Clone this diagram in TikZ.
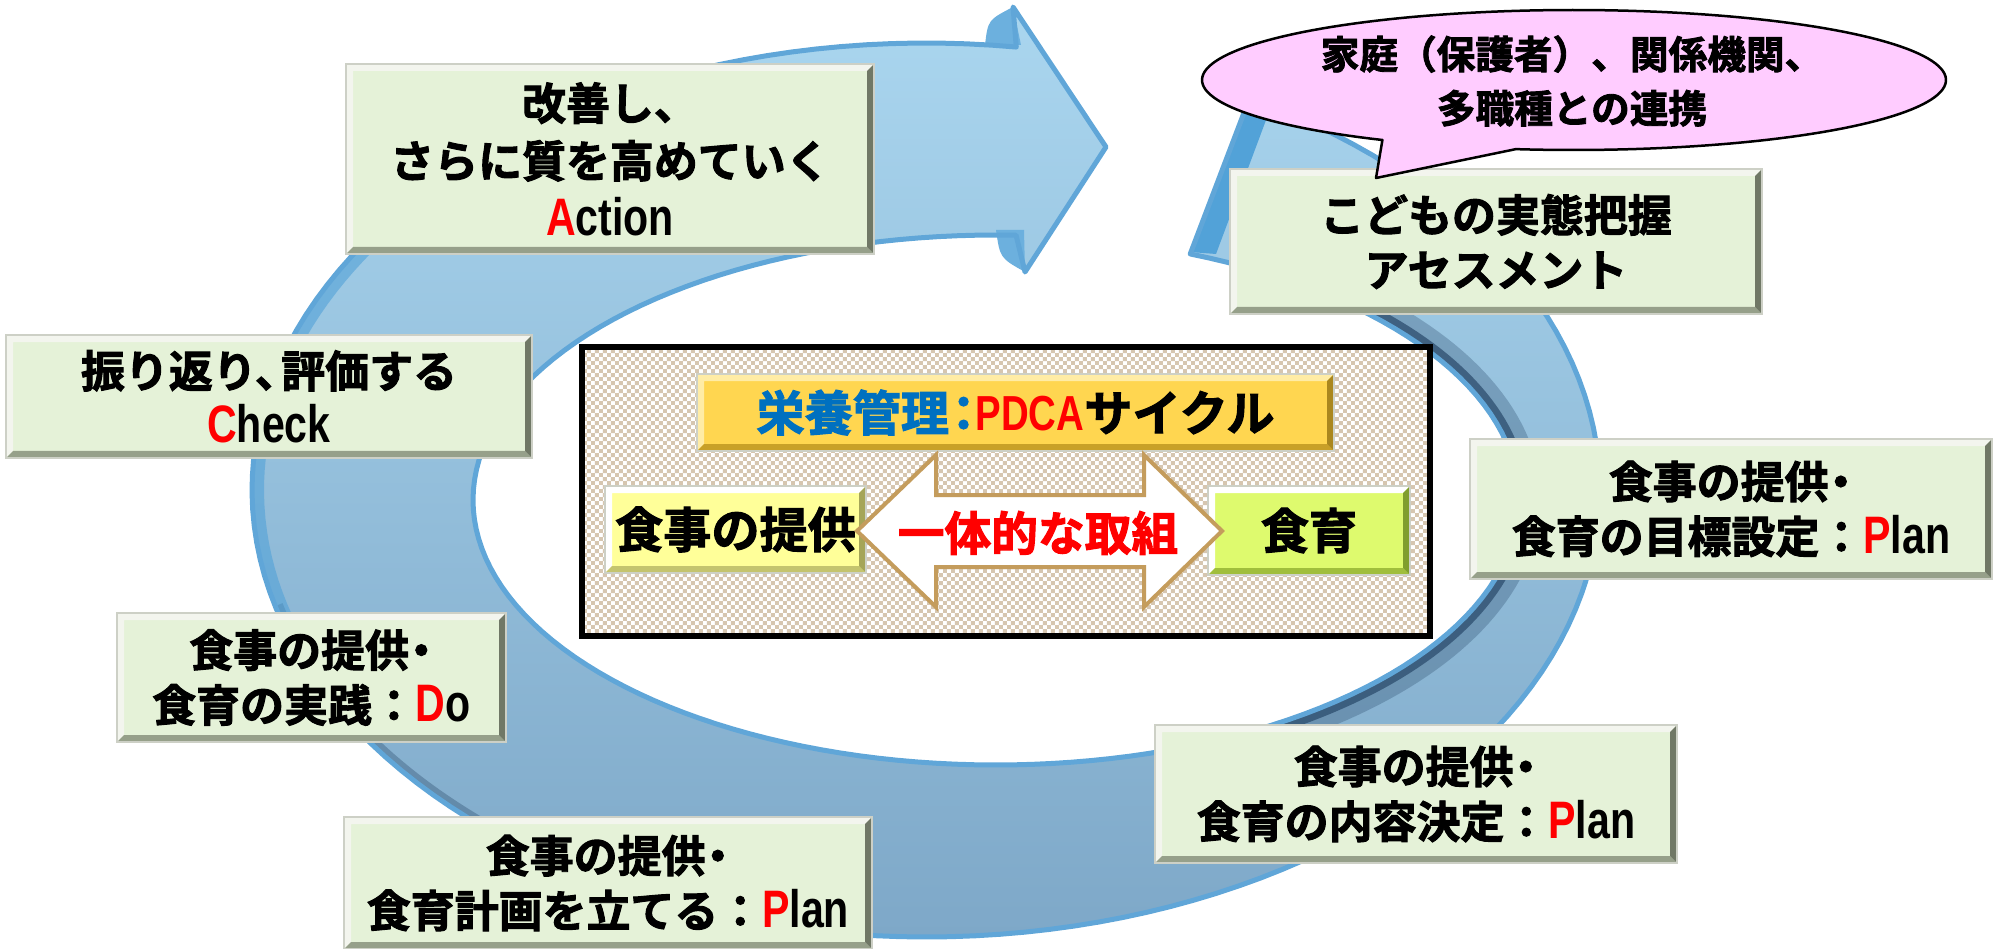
\documentclass[tikz,border=0pt]{standalone}
\usepackage{fontspec}
\usetikzlibrary{patterns}
\newfontfamily\jp{Noto Sans CJK JP}[UprightFont={* Bold},BoldFont={* Bold},UprightFeatures={FakeBold=2.2}]
\newfontfamily\lat{Liberation Sans Bold}[FakeStretch=0.78]

\definecolor{boxg}{RGB}{229,242,216}
\definecolor{bevL}{RGB}{243,245,238}
\definecolor{bevB}{RGB}{150,160,138}
\definecolor{bevR}{RGB}{112,120,102}
\definecolor{boxedge}{RGB}{205,208,198}
\definecolor{ringA}{RGB}{170,214,239}
\definecolor{ringB}{RGB}{126,168,200}
\definecolor{ringedge}{RGB}{96,166,216}
\definecolor{ringdark}{RGB}{40,72,105}
\definecolor{tailface}{RGB}{82,162,216}
\definecolor{pinkb}{RGB}{255,204,255}
\definecolor{goldf}{RGB}{255,214,80}
\definecolor{goldB}{RGB}{200,160,40}
\definecolor{goldR}{RGB}{170,135,30}
\definecolor{goldL}{RGB}{255,236,165}
\definecolor{lyel}{RGB}{255,255,153}
\definecolor{lyelB}{RGB}{196,196,110}
\definecolor{lyelR}{RGB}{165,165,88}
\definecolor{limef}{RGB}{222,250,110}
\definecolor{limeB}{RGB}{160,190,60}
\definecolor{limeR}{RGB}{128,158,45}
\definecolor{tanarrow}{RGB}{196,156,92}
\definecolor{checker}{RGB}{214,198,176}
\definecolor{titleblue}{RGB}{0,112,192}
\definecolor{pred}{RGB}{255,0,0}

\pgfdeclarepatternformonly{finecheck}{\pgfpointorigin}{\pgfqpoint{0.8mm}{0.8mm}}{\pgfqpoint{0.8mm}{0.8mm}}{%
  \pgfpathrectangle{\pgfpointorigin}{\pgfqpoint{0.4mm}{0.4mm}}%
  \pgfpathrectangle{\pgfqpoint{0.4mm}{0.4mm}}{\pgfqpoint{0.4mm}{0.4mm}}%
  \pgfusepath{fill}}

\newcommand\bevel[3]{%
 \fill[#1] (path picture bounding box.south west) -- (path picture bounding box.north west) -- (path picture bounding box.north east) -- ([shift={(-7,-7)}]path picture bounding box.north east) -- ([shift={(7,-7)}]path picture bounding box.north west) -- ([shift={(7,7)}]path picture bounding box.south west) -- cycle;
 \fill[#2] (path picture bounding box.south west) -- (path picture bounding box.south east) -- ([shift={(-7,7)}]path picture bounding box.south east) -- ([shift={(7,7)}]path picture bounding box.south west) -- cycle;
 \fill[#3] (path picture bounding box.south east) -- (path picture bounding box.north east) -- ([shift={(-7,-7)}]path picture bounding box.north east) -- ([shift={(-7,7)}]path picture bounding box.south east) -- cycle;
}
\newcommand\boxfont{\jp\fontsize{12.5pt}{15.6pt}\selectfont}
\newcommand\lt[1]{{\lat\fontsize{15pt}{15.6pt}\selectfont #1}}
\newcommand\rd[1]{\textcolor{pred}{#1}}
\newcommand\md{\kern-.22em・\kern-.22em}

\def\ringpath{plot[domain=61.3:-277.7, samples=160, variable=\t] ({926+674*cos(\t)}, {-490+447*sin(\t)}) -- (1013,-7) -- (1106,-147) -- (1025,-272) -- plot[domain=-272.2:68.2, samples=160, variable=\t] ({996+523*cos(\t)}, {-500+265*sin(\t)}) -- cycle}

\tikzset{
 tbox/.style={draw=boxedge, line width=0.2mm, fill=boxg, inner sep=0pt, align=center, font=\boxfont, path picture={\bevel{bevL}{bevB}{bevR}}},
 ybox/.style={draw=boxedge, line width=0.2mm, fill=lyel, inner sep=0pt, align=center, path picture={\bevel{white}{lyelB}{lyelR}}},
 lbox/.style={draw=boxedge, line width=0.2mm, fill=limef, inner sep=0pt, align=center, path picture={\bevel{white}{limeB}{limeR}}},
 gbox/.style={draw=boxedge, line width=0.2mm, fill=goldf, inner sep=0pt, align=center, path picture={\bevel{goldL}{goldB}{goldR}}},
}

\begin{document}
\begin{tikzpicture}[x=0.1mm, y=0.1mm]
\useasboundingbox (0,0) rectangle (1995,-949);

% ---- circular arrow ----
\shade[top color=ringA, bottom color=ringB] \ringpath;
\draw[ringdark, line width=2mm, opacity=0.3] plot[domain=-62:60, samples=80, variable=\t] ({996+535*cos(\t)}, {-500+277*sin(\t)});
\draw[ringdark, line width=0.9mm, opacity=0.7] plot[domain=-58:58, samples=80, variable=\t] ({996+528*cos(\t)}, {-500+270*sin(\t)});
\draw[ringdark, line width=0.8mm, opacity=0.35] plot[domain=-165:-105, samples=50, variable=\t] ({926+670*cos(\t)}, {-490+443*sin(\t)});
\draw[tailface, line width=1.2mm, opacity=0.6] plot[domain=-230:-150, samples=50, variable=\t] ({926+668*cos(\t)}, {-490+441*sin(\t)});
\fill[tailface] (1190,-252) -- (1249,-98) -- (1272,-104) -- (1216,-254) -- cycle;
\fill[tailface!85!white] (985,-45) .. controls (988,-20) .. (1013,-7) -- (1021,-45) -- cycle;
\fill[tailface!85!white] (996,-230) .. controls (1000,-258) .. (1025,-272) -- (1024,-230) -- cycle;
\draw[ringedge, line width=0.5mm, line join=round] \ringpath;

% ---- centre frame ----
\node (frame) [draw=black, line width=0.6mm, preaction={fill=white}, pattern=finecheck, pattern color=checker, minimum width=84.8mm, minimum height=28.9mm, inner sep=0pt] at (1006,-491.5) {};
\node (title) [gbox, minimum width=63.7mm, minimum height=7.7mm, font=\jp\fontsize{13.7pt}{15pt}\selectfont] at (1015.5,-412.5)
  {\textcolor{titleblue}{栄養管理\kern-.2em：\kern-.25em}\textcolor{pred}{\lat\fontsize{14pt}{15pt}\selectfont PDCA}サイクル};
\node (meal) [ybox, minimum width=26.1mm, minimum height=8.7mm, font=\jp\fontsize{13.7pt}{15pt}\selectfont] at (735.5,-529.5) {食事の提供};
\node (edu) [lbox, minimum width=20.2mm, minimum height=8.9mm, font=\jp\fontsize{13.7pt}{15pt}\selectfont] at (1309,-530.5) {食育};
\draw[tanarrow, line width=0.4mm, fill=white, line join=miter]
  (857,-531) -- (936,-455) -- (936,-495) -- (1144,-495) -- (1144,-455) -- (1222,-531) -- (1144,-607) -- (1144,-567) -- (936,-567) -- (936,-607) -- cycle;
\node (joint) [text=pred, font=\jp\fontsize{13.3pt}{14pt}\selectfont] at (1038,-533) {一体的な取組};

% ---- stage boxes ----
\node (act) [tbox, minimum width=52.8mm, minimum height=19mm, font=\jp\fontsize{12.5pt}{16.4pt}\selectfont] at (610,-159)
  {改善し、\\さらに質を高めていく\\\lt{\rd{A}ction}};
\node (assess) [tbox, minimum width=53.2mm, minimum height=14.5mm] at (1496,-241.5)
  {こどもの実態把握\\アセスメント};
\node (check) [tbox, minimum width=52.6mm, minimum height=12.3mm] at (269,-396.5)
  {振り返り、\kern-.4em評価する\\\lt{\rd{C}heck}};
\node (do) [tbox, minimum width=38.9mm, minimum height=12.9mm] at (311.5,-677.5)
  {食事の提供\md\\食育の実践：\lt{\rd{D}o}};
\node (plan1) [tbox, minimum width=52.8mm, minimum height=13.2mm] at (608,-883)
  {食事の提供\md\\食育計画を立てる：\lt{\rd{P}lan}};
\node (plan2) [tbox, minimum width=52.2mm, minimum height=13.8mm] at (1416,-794)
  {食事の提供\md\\食育の内容決定：\lt{\rd{P}lan}};
\node (plan3) [tbox, minimum width=52.2mm, minimum height=14mm] at (1731,-509)
  {食事の提供\md\\食育の目標設定：\lt{\rd{P}lan}};

% ---- speech bubble ----
\draw[line width=0.25mm, fill=pinkb, line join=round] plot[domain=261:599, samples=160, variable=\t] ({1574+372*cos(\t)}, {-80+70*sin(\t)}) -- (1376,-178) -- cycle;
\node (bubble) [align=center, font=\jp\fontsize{11pt}{15.4pt}\selectfont] at (1572,-81)
  {家庭（保護者）、関係機関、\\多職種との連携};
\end{tikzpicture}
\end{document}
